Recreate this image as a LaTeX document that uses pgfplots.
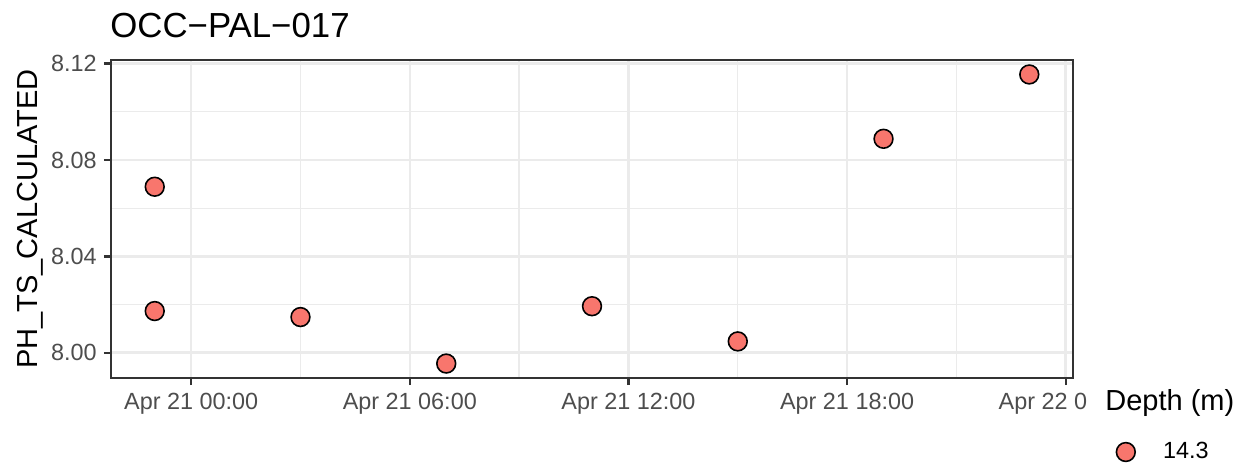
\documentclass[border=0pt]{standalone}
\usepackage{pgfplots}
\pgfplotsset{compat=1.18}
\usepackage{fontspec}
\setmainfont{Liberation Sans}
\definecolor{salmon}{HTML}{F8766D}
\definecolor{gridc}{HTML}{EBEBEB}
\definecolor{bordc}{HTML}{333333}
\definecolor{tickc}{HTML}{4D4D4D}
\begin{document}
\begin{tikzpicture}
\useasboundingbox (0,0) rectangle (623pt,234pt);
\begin{axis}[
  at={(55.5pt,45pt)}, anchor=south west,
  scale only axis, width=481pt, height=159pt,
  xmin=-2.2, xmax=24.2, ymin=7.9895, ymax=8.1215,
  xtick={0,6,12,18,24},
  xticklabels={Apr 21 00:00, Apr 21 06:00, Apr 21 12:00, Apr 21 18:00, Apr 22 0\phantom{0:00}},
  minor xtick={3,9,15,21},
  ytick={8.00,8.04,8.08,8.12},
  yticklabels={8.00,8.04,8.08,8.12},
  minor ytick={8.02,8.06,8.10},
  grid=both,
  major grid style={color=gridc, line width=1.3pt},
  minor grid style={color=gridc, line width=0.65pt},
  axis line style={color=bordc, line width=1.2pt},
  tick align=outside, tick pos=left,
  major tick length=3.6pt, minor tick length=0pt,
  tick style={color=bordc, line width=1.2pt},
  xticklabel style={font=\fontsize{11.7}{13}\selectfont, text=tickc, inner sep=0pt, anchor=north, yshift=-3.9pt},
  yticklabel style={font=\fontsize{11.7}{13}\selectfont, text=tickc, inner sep=0pt, anchor=east, xshift=-3.4pt},
  legend style={at={(axis description cs:1.0447,-0.2327)}, anchor=west, draw=none, fill=none, inner sep=0pt,
    font=\fontsize{11.7}{13}\selectfont, nodes={inner sep=0pt},
    /tikz/every odd column/.append style={column sep=14pt}},
  legend image code/.code={\draw[mark=*, mark size=4.7pt, mark options={fill=salmon, draw=black, line width=0.8pt}] plot coordinates {(0pt,0pt)};},
]
\addplot[only marks, mark=*, mark size=4.7pt, mark options={fill=salmon, draw=black, line width=0.8pt}]
  coordinates {(-1,8.0689) (-1,8.0173) (3,8.0148) (7,7.9955) (11,8.0193) (15,8.0047) (19,8.0888) (23,8.1155)};
\addlegendentry{14.3}
\end{axis}
\node[anchor=base west, inner sep=0pt, font=\fontsize{17.4}{20}\selectfont] at (55pt,215.5pt) {OCC−PAL−017};
\node[anchor=base, rotate=90, inner sep=0pt, font=\fontsize{14.5}{17}\selectfont] at (18.5pt,124.5pt) {PH\_TS\_CALCULATED};
\node[anchor=base west, inner sep=0pt, font=\fontsize{14.5}{17}\selectfont] at (552.5pt,29pt) {Depth (m)};
\end{tikzpicture}
\end{document}
